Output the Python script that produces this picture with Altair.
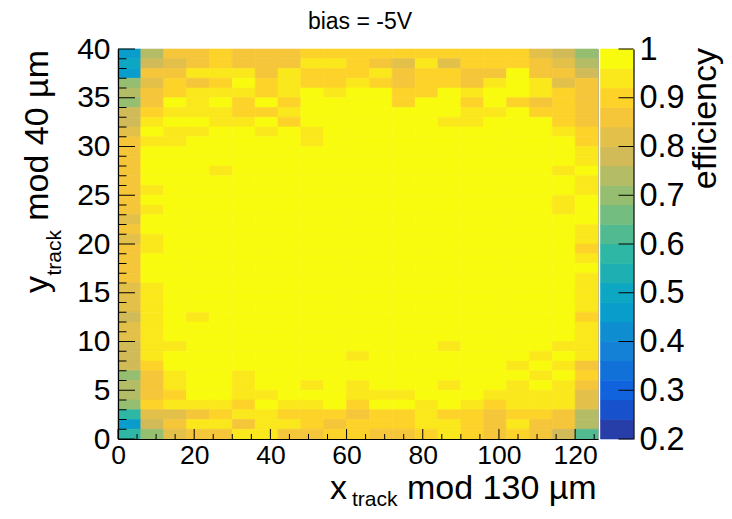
import altair as alt
import numpy as np
import pandas as pd

# ---------------- data ----------------
x_bin_edges = [0, 6, 12, 18, 24, 30, 36, 42, 48, 54, 60, 66, 72, 78, 84, 90, 96, 102, 108, 114, 120, 126]
y_bin_edges = list(range(0, 41))

# efficiency per cell; rows from the top row (y 39-40) down to the bottom row (y 0-1),
# columns from x = 0-6 to x = 120-126
efficiency_top_down = [
    [0.46, 0.74, 0.86, 0.86, 0.90, 0.85, 0.85, 0.85, 0.90, 0.90, 0.90, 0.91, 0.91, 0.90, 0.90, 0.90, 0.90, 0.90, 0.82, 0.78, 0.70],
    [0.50, 0.77, 0.82, 0.86, 0.90, 0.86, 0.86, 0.86, 0.93, 0.93, 0.90, 0.86, 0.82, 0.93, 0.82, 0.90, 0.90, 0.90, 0.85, 0.81, 0.74],
    [0.46, 0.86, 0.86, 0.94, 0.94, 0.94, 0.86, 0.94, 0.89, 0.89, 0.90, 0.93, 0.87, 0.89, 0.89, 0.87, 0.87, 0.98, 0.86, 0.86, 0.78],
    [0.70, 0.82, 0.90, 0.85, 0.90, 0.98, 0.90, 0.94, 0.90, 0.90, 0.93, 0.90, 0.87, 0.90, 0.90, 0.87, 0.93, 0.98, 0.93, 0.81, 0.86],
    [0.73, 0.86, 0.90, 0.94, 0.93, 0.94, 0.90, 0.94, 0.98, 0.94, 0.98, 0.98, 0.90, 0.90, 0.98, 0.94, 0.98, 0.98, 0.94, 0.90, 0.86],
    [0.70, 0.86, 0.98, 0.94, 0.98, 0.90, 0.98, 0.90, 0.98, 0.98, 0.98, 0.98, 0.90, 0.98, 0.98, 0.90, 0.98, 0.90, 0.87, 0.90, 0.86],
    [0.78, 0.90, 0.94, 0.94, 0.94, 0.90, 0.90, 0.94, 0.98, 0.98, 0.98, 0.98, 0.98, 0.98, 0.98, 0.94, 0.93, 0.98, 0.90, 0.90, 0.86],
    [0.78, 0.93, 0.98, 0.98, 0.94, 0.94, 0.98, 0.90, 0.98, 0.98, 0.98, 0.98, 0.98, 0.98, 0.94, 0.94, 0.98, 0.98, 0.98, 0.91, 0.85],
    [0.83, 0.98, 0.94, 0.94, 0.98, 0.98, 0.94, 0.98, 0.94, 0.98, 0.98, 0.98, 0.98, 0.98, 0.98, 0.98, 0.98, 0.98, 0.98, 0.94, 0.89],
    [0.86, 0.93, 0.93, 0.98, 0.98, 0.98, 0.98, 0.98, 0.94, 0.98, 0.98, 0.98, 0.98, 0.98, 0.98, 0.98, 0.98, 0.98, 0.98, 0.98, 0.90],
    [0.86, 0.98, 0.98, 0.98, 0.98, 0.98, 0.98, 0.98, 0.98, 0.98, 0.98, 0.98, 0.98, 0.98, 0.98, 0.98, 0.98, 0.98, 0.98, 0.98, 0.93],
    [0.86, 0.98, 0.98, 0.98, 0.98, 0.98, 0.98, 0.98, 0.98, 0.98, 0.98, 0.98, 0.98, 0.98, 0.98, 0.98, 0.98, 0.98, 0.98, 0.98, 0.93],
    [0.86, 0.98, 0.98, 0.98, 0.94, 0.98, 0.98, 0.98, 0.98, 0.98, 0.98, 0.98, 0.98, 0.98, 0.98, 0.98, 0.98, 0.98, 0.98, 0.94, 0.98],
    [0.86, 0.98, 0.98, 0.98, 0.98, 0.98, 0.98, 0.98, 0.98, 0.98, 0.98, 0.98, 0.98, 0.98, 0.98, 0.98, 0.98, 0.98, 0.98, 0.98, 0.94],
    [0.85, 0.94, 0.98, 0.98, 0.98, 0.98, 0.98, 0.98, 0.98, 0.98, 0.98, 0.98, 0.98, 0.98, 0.98, 0.98, 0.98, 0.98, 0.98, 0.98, 0.94],
    [0.86, 0.98, 0.98, 0.98, 0.98, 0.98, 0.98, 0.98, 0.98, 0.98, 0.98, 0.98, 0.98, 0.98, 0.98, 0.98, 0.98, 0.98, 0.98, 0.94, 0.98],
    [0.86, 0.94, 0.98, 0.98, 0.98, 0.98, 0.98, 0.98, 0.98, 0.98, 0.98, 0.98, 0.98, 0.98, 0.98, 0.98, 0.98, 0.98, 0.98, 0.94, 0.98],
    [0.83, 0.98, 0.98, 0.98, 0.98, 0.98, 0.98, 0.98, 0.98, 0.98, 0.98, 0.98, 0.98, 0.98, 0.98, 0.98, 0.98, 0.98, 0.98, 0.98, 0.98],
    [0.86, 0.98, 0.98, 0.98, 0.98, 0.98, 0.98, 0.98, 0.98, 0.98, 0.98, 0.98, 0.98, 0.98, 0.98, 0.98, 0.98, 0.98, 0.98, 0.98, 0.94],
    [0.83, 0.94, 0.98, 0.98, 0.98, 0.98, 0.98, 0.98, 0.98, 0.98, 0.98, 0.98, 0.98, 0.98, 0.98, 0.98, 0.98, 0.98, 0.98, 0.98, 0.94],
    [0.86, 0.94, 0.98, 0.98, 0.98, 0.98, 0.98, 0.98, 0.98, 0.98, 0.98, 0.98, 0.98, 0.98, 0.98, 0.98, 0.98, 0.98, 0.98, 0.98, 0.89],
    [0.86, 0.98, 0.98, 0.98, 0.98, 0.98, 0.98, 0.98, 0.98, 0.98, 0.98, 0.98, 0.98, 0.98, 0.98, 0.98, 0.98, 0.98, 0.98, 0.98, 0.94],
    [0.86, 0.98, 0.98, 0.98, 0.98, 0.98, 0.98, 0.98, 0.98, 0.98, 0.98, 0.98, 0.98, 0.98, 0.98, 0.98, 0.98, 0.98, 0.98, 0.98, 0.98],
    [0.86, 0.98, 0.98, 0.98, 0.98, 0.98, 0.98, 0.98, 0.98, 0.98, 0.98, 0.98, 0.98, 0.98, 0.98, 0.98, 0.98, 0.98, 0.98, 0.98, 0.94],
    [0.82, 0.94, 0.98, 0.98, 0.98, 0.98, 0.98, 0.98, 0.98, 0.98, 0.98, 0.98, 0.98, 0.98, 0.98, 0.98, 0.98, 0.98, 0.98, 0.98, 0.94],
    [0.82, 0.94, 0.98, 0.98, 0.98, 0.98, 0.98, 0.98, 0.98, 0.98, 0.98, 0.98, 0.98, 0.98, 0.98, 0.98, 0.98, 0.98, 0.98, 0.98, 0.94],
    [0.82, 0.94, 0.98, 0.98, 0.98, 0.98, 0.98, 0.98, 0.98, 0.98, 0.98, 0.98, 0.98, 0.98, 0.98, 0.98, 0.98, 0.98, 0.98, 0.98, 0.94],
    [0.79, 0.94, 0.98, 0.94, 0.98, 0.98, 0.98, 0.98, 0.98, 0.98, 0.98, 0.98, 0.98, 0.98, 0.98, 0.98, 0.98, 0.98, 0.98, 0.98, 0.89],
    [0.83, 0.94, 0.98, 0.98, 0.98, 0.98, 0.98, 0.98, 0.98, 0.98, 0.98, 0.98, 0.98, 0.98, 0.98, 0.98, 0.98, 0.98, 0.98, 0.98, 0.94],
    [0.82, 0.94, 0.98, 0.98, 0.98, 0.98, 0.98, 0.98, 0.98, 0.98, 0.98, 0.98, 0.98, 0.98, 0.98, 0.98, 0.98, 0.98, 0.98, 0.98, 0.94],
    [0.79, 0.94, 0.94, 0.98, 0.98, 0.98, 0.98, 0.98, 0.98, 0.98, 0.98, 0.98, 0.98, 0.98, 0.94, 0.98, 0.98, 0.98, 0.98, 0.94, 0.94],
    [0.79, 0.94, 0.98, 0.98, 0.98, 0.98, 0.98, 0.98, 0.98, 0.98, 0.94, 0.98, 0.98, 0.98, 0.98, 0.98, 0.98, 0.98, 0.94, 0.98, 0.94],
    [0.78, 0.90, 0.98, 0.98, 0.98, 0.98, 0.98, 0.98, 0.98, 0.98, 0.98, 0.98, 0.98, 0.98, 0.98, 0.98, 0.98, 0.94, 0.98, 0.94, 0.86],
    [0.70, 0.87, 0.94, 0.98, 0.98, 0.94, 0.98, 0.98, 0.98, 0.98, 0.98, 0.98, 0.98, 0.98, 0.98, 0.98, 0.98, 0.98, 0.94, 0.98, 0.90],
    [0.73, 0.86, 0.94, 0.98, 0.98, 0.94, 0.98, 0.98, 0.94, 0.98, 0.94, 0.98, 0.98, 0.98, 0.94, 0.98, 0.98, 0.94, 0.98, 0.94, 0.86],
    [0.73, 0.86, 0.90, 0.98, 0.98, 0.94, 0.94, 0.98, 0.98, 0.98, 0.94, 0.94, 0.94, 0.98, 0.98, 0.98, 0.94, 0.94, 0.94, 0.94, 0.83],
    [0.70, 0.90, 0.94, 0.94, 0.94, 0.90, 0.98, 0.94, 0.94, 0.98, 0.90, 0.98, 0.98, 0.94, 0.98, 0.94, 0.90, 0.94, 0.94, 0.94, 0.81],
    [0.57, 0.82, 0.82, 0.86, 0.90, 0.94, 0.94, 0.90, 0.90, 0.90, 0.86, 0.90, 0.90, 0.94, 0.90, 0.90, 0.86, 0.90, 0.90, 0.86, 0.75],
    [0.46, 0.77, 0.86, 0.94, 0.94, 0.86, 0.94, 0.94, 0.90, 0.86, 0.90, 0.90, 0.90, 0.94, 0.94, 0.90, 0.86, 0.94, 0.86, 0.86, 0.75],
    [0.57, 0.70, 0.82, 0.86, 0.86, 0.94, 0.94, 0.86, 0.86, 0.90, 0.90, 0.86, 0.86, 0.90, 0.94, 0.90, 0.86, 0.90, 0.86, 0.78, 0.62],
]

x_ticks_major = [0, 20, 40, 60, 80, 100, 120]
x_ticks_minor = [5, 10, 15, 25, 30, 35, 45, 50, 55, 65, 70, 75, 85, 90, 95, 105, 110, 115, 125]
y_ticks_major = [0, 5, 10, 15, 20, 25, 30, 35, 40]
y_ticks_minor = [1, 2, 3, 4, 6, 7, 8, 9, 11, 12, 13, 14, 16, 17, 18, 19, 21, 22, 23, 24,
                 26, 27, 28, 29, 31, 32, 33, 34, 36, 37, 38, 39]
z_ticks = [0.2, 0.3, 0.4, 0.5, 0.6, 0.7, 0.8, 0.9, 1.0]
z_min, z_max, n_levels = 0.2, 1.0, 20

title_text = "bias = -5V"
x_title_main, x_title_sub, x_title_rest = "x", "track", "mod 130 µm"
y_title_main, y_title_sub, y_title_rest = "y", "track", "mod 40 µm"
z_title = "efficiency"

# ---------------- tables ----------------
records = []
n_rows = len(efficiency_top_down)
for r, row in enumerate(efficiency_top_down):
    assert len(row) == len(x_bin_edges) - 1
    yi = n_rows - 1 - r
    for c, v in enumerate(row):
        records.append({"x0": x_bin_edges[c], "x1": x_bin_edges[c + 1],
                        "y0": y_bin_edges[yi], "y1": y_bin_edges[yi + 1], "eff": v})
cells = pd.DataFrame(records)

step = (z_max - z_min) / n_levels
thresholds = [round(z_min + step * k, 4) for k in range(1, n_levels)]
bands = pd.DataFrame({
    "lo": [z_min + step * k for k in range(n_levels)],
    "hi": [z_min + step * (k + 1) for k in range(n_levels)],
    "eff": [z_min + step * (k + 0.5) for k in range(n_levels)],
})

# ROOT kBird palette, sampled the way ROOT picks colours for 20 contour levels
bird_stops = [0.0, 0.125, 0.25, 0.375, 0.5, 0.625, 0.75, 0.875, 1.0]
bird_r = [0.2082, 0.0592, 0.0780, 0.0232, 0.1802, 0.5301, 0.8186, 0.9956, 0.9764]
bird_g = [0.1664, 0.3599, 0.5041, 0.6419, 0.7178, 0.7492, 0.7328, 0.7862, 0.9832]
bird_b = [0.5293, 0.8684, 0.8385, 0.7914, 0.6425, 0.4662, 0.3499, 0.1968, 0.0539]
palette = []
for i in range(n_levels):
    t = min(int((i + 0.99) * 255 / n_levels) / 254.0, 1.0)
    rgb = [float(np.interp(t, bird_stops, ch)) for ch in (bird_r, bird_g, bird_b)]
    palette.append("#%02x%02x%02x" % tuple(int(round(c * 255)) for c in rgb))

W, H = 480, 390
FONT = "Liberation Sans"

xs = alt.Scale(domain=[0, 126], nice=False, zero=False)
ys = alt.Scale(domain=[0, 40], nice=False, zero=False)
zs = alt.Scale(domain=[z_min, z_max], nice=False, zero=False)
cs = alt.Scale(type="threshold", domain=thresholds, range=palette)

heat = alt.Chart(cells).mark_rect(strokeWidth=0.6).encode(
    x=alt.X("x0:Q", scale=xs, axis=alt.Axis(values=x_ticks_major, title=None, ticks=False, grid=False,
                                             labelFontSize=26.5, labelPadding=3, labelFlush=False,
                                             labelOverlap=False, zindex=1, domainWidth=1.2)),
    x2="x1:Q",
    y=alt.Y("y0:Q", scale=ys, axis=alt.Axis(values=y_ticks_major, title=None, ticks=False, grid=False,
                                             labelFontSize=30, labelPadding=8, labelFlush=False,
                                             labelOverlap=False, zindex=1, domainWidth=1.2)),
    y2="y1:Q",
    color=alt.Color("eff:Q", scale=cs, legend=None),
    stroke=alt.Stroke("eff:Q", scale=cs, legend=None),
)

def tick_rules(values, channel, a, b):
    df = pd.DataFrame({"v": values})
    ch = alt.Chart(df).mark_rule(color="black", strokeWidth=1)
    if channel == "x":
        return ch.encode(x=alt.X("v:Q", scale=xs, axis=None), y=alt.value(a), y2=alt.value(b))
    if channel == "y":
        return ch.encode(y=alt.Y("v:Q", scale=ys, axis=None), x=alt.value(a), x2=alt.value(b))
    return ch.encode(y=alt.Y("v:Q", scale=zs, axis=None), x=alt.value(a), x2=alt.value(b))

xt_major = tick_rules(x_ticks_major, "x", H, H - 10)
xt_minor = tick_rules(x_ticks_minor, "x", H, H - 5)
yt_major = tick_rules(y_ticks_major, "y", 0, 17)
yt_minor = tick_rules(y_ticks_minor, "y", 0, 8.5)

CB_X0, CB_X1 = 482.5, 515.5
colorbar = alt.Chart(bands).mark_rect(strokeWidth=0.6).encode(
    x=alt.value(CB_X0), x2=alt.value(CB_X1),
    y=alt.Y("lo:Q", scale=zs, axis=alt.Axis(orient="right", offset=CB_X1 - W, values=z_ticks, format=".1~f",
                                             ticks=False, title=None, grid=False, labelFontSize=32.5,
                                             labelPadding=5.5, labelFlush=False, labelOverlap=False,
                                             zindex=1, domainWidth=1.2)),
    y2="hi:Q",
    color=alt.Color("eff:Q", scale=cs, legend=None),
    stroke=alt.Stroke("eff:Q", scale=cs, legend=None),
)
zt = tick_rules(z_ticks, "z", CB_X1 - 15, CB_X1)

def label(text, x, y, size, angle=0, align="left"):
    return alt.Chart(pd.DataFrame({"t": [text]})).mark_text(
        fontSize=size, angle=angle, align=align, baseline="alphabetic", color="black", font=FONT
    ).encode(text="t:N", x=alt.value(x), y=alt.value(y))

texts = [
    label(title_text, 242, -20, 23, align="center"),
    label(x_title_main, 212, 450, 34),
    label(x_title_sub, 234, 457, 21),
    label(x_title_rest, 289, 450, 34),
    label(y_title_rest, -70, 1, 34, angle=270, align="right"),
    label(y_title_sub, -57, 181, 21, angle=270, align="right"),
    label(y_title_main, -70, 227, 34, angle=270, align="right"),
    label(z_title, 598, -1, 34, angle=270, align="right"),
]

chart = alt.layer(
    heat, xt_major, xt_minor, yt_major, yt_minor, colorbar, zt, *texts
).resolve_scale(y="independent").resolve_axis(x="independent").properties(
    width=W, height=H,
    autosize=alt.AutoSizeParams(type="none"),
    padding={"left": 110, "top": 41, "right": 126, "bottom": 71},
).configure_view(
    stroke="#b0b0b0", strokeWidth=1
).configure_axis(
    labelFont=FONT, labelColor="black", domainColor="black"
).configure_text(font=FONT)

chart.save("out.html", embed_options={"renderer": "svg", "actions": False})
